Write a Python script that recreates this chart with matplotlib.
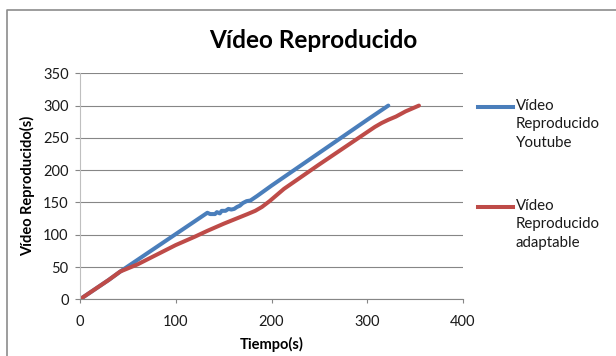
import numpy as np
import matplotlib
matplotlib.use("Agg")
import matplotlib.pyplot as plt
from matplotlib.lines import Line2D

# tiempo (s) vs segundos de vídeo reproducidos
t_youtube = [0, 10, 20, 30, 44, 60, 80, 100, 120, 133, 136, 141, 143, 146, 148,
             152, 155, 158, 161, 164, 167, 170, 174, 178, 185, 200, 250, 300, 322]
v_youtube = [0, 10, 20, 30, 45, 61, 81, 101, 121, 134, 132, 132, 135, 133, 137,
             137, 140, 139, 140, 143, 145, 149, 152, 153, 160, 176, 227, 278, 300]

t_adapt = [0, 10, 20, 30, 42, 60, 80, 100, 120, 133, 150, 165, 175, 183, 190,
           198, 213, 250, 300, 308, 315, 322, 330, 340, 354]
v_adapt = [0, 10, 20, 30, 43, 54, 69, 84, 97, 106, 117, 126, 132, 137, 143,
           152, 171, 209, 259, 267, 273, 278, 283, 291, 300]

labels = ["Vídeo\nReproducido\nYoutube", "Vídeo\nReproducido\nadaptable"]
azul = "#4a7ebb"
rojo = "#be4b48"

plt.rcParams['font.family'] = ['Lato', 'DejaVu Sans']

fig = plt.figure(figsize=(6.16, 3.56), dpi=100)
ax = fig.add_axes([80/616, 1 - 299.3/356, 383/616, 226/356])

ax.plot(t_youtube, v_youtube, color=azul, lw=2.9, solid_capstyle='round',
        solid_joinstyle='round')
ax.plot(t_adapt, v_adapt, color=rojo, lw=2.9, solid_capstyle='round',
        solid_joinstyle='round')

ax.set_xlim(0, 400)
ax.set_ylim(0, 350)
ax.set_xticks(np.arange(0, 401, 100))
ax.set_yticks(np.arange(0, 351, 50))
ax.grid(axis='y', color='#868686', lw=0.8)
ax.set_axisbelow(True)

for s in ['top', 'right']:
    ax.spines[s].set_visible(False)
ax.spines['left'].set_color('#bfbfbf')
ax.spines['bottom'].set_color('#868686')
ax.tick_params(axis='y', length=3.6, color='#868686', pad=4.5, labelsize=10.5,
               labelcolor='#1a1a1a')
ax.tick_params(axis='x', length=3, color='#868686', pad=8, labelsize=10.5,
               labelcolor='#1a1a1a')

ax.set_xlabel('Tiempo(s)', fontsize=10.5, fontweight='bold', labelpad=6)
ax.set_ylabel('Vídeo Reproducido(s)', fontsize=10.5, fontweight='bold', labelpad=6)
fig.text(313/616, 1 - 40/356, 'Vídeo Reproducido', ha='center', va='center',
         fontsize=17.5, fontweight='bold')

# leyenda a la derecha
for y0, color, lab in [(106.7, azul, labels[0]), (206.7, rojo, labels[1])]:
    yf = 1 - y0/356
    fig.add_artist(Line2D([478/616, 513/616], [yf, yf], color=color, lw=2.9,
                          transform=fig.transFigure))
    fig.text(516/616, yf + 8/356, lab, ha='left', va='top', fontsize=10.8,
             linespacing=1.42, color='#1a1a1a')

# marco del gráfico
fig.add_artist(Line2D([7/616, 7/616, 1], [0, 1 - 10/356, 1 - 10/356],
                      color='#8c8c8c', lw=1.2, transform=fig.transFigure))

fig.savefig('out.png', dpi=100)
